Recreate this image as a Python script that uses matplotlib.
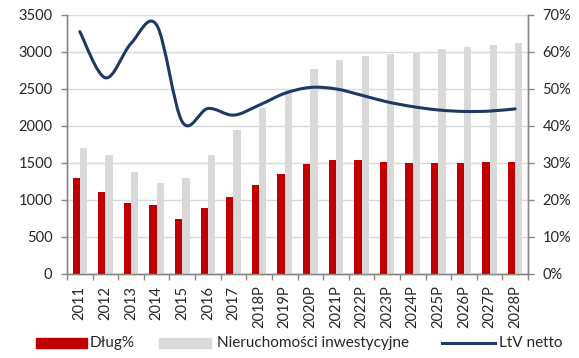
import numpy as np
import matplotlib
matplotlib.use("Agg")
import matplotlib.pyplot as plt
from matplotlib.path import Path
from matplotlib.patches import PathPatch, Rectangle
from matplotlib.lines import Line2D
from matplotlib.ticker import FuncFormatter

plt.rcParams['font.family'] = ['Lato', 'DejaVu Sans']

years = ["2011", "2012", "2013", "2014", "2015", "2016", "2017", "2018P", "2019P",
         "2020P", "2021P", "2022P", "2023P", "2024P", "2025P", "2026P", "2027P", "2028P"]
debt = [1290, 1110, 953, 925, 740, 893, 1034, 1200, 1353,
        1489, 1539, 1535, 1516, 1498, 1498, 1502, 1512, 1516]
property_value = [1705, 1611, 1376, 1228, 1291, 1607, 1941, 2238, 2490,
                  2770, 2892, 2950, 2977, 3004, 3036, 3063, 3095, 3122]
ltv = [65.5, 53.0, 62.3, 67.3, 41.1, 44.7, 42.9, 45.6, 48.8,
       50.4, 50.0, 48.3, 46.5, 45.2, 44.3, 43.9, 44.0, 44.6]
legend_labels = ["Dług%", "Nieruchomości inwestycyjne", "LtV netto"]

RED = "#C00000"
GREY = "#D9D9D9"
NAVY = "#1F3864"
AXIS = "#868686"
TEXT = "#262626"

W, H = 579, 358
fig = plt.figure(figsize=(W / 100, H / 100), dpi=100)
ax = fig.add_axes([67 / W, 1 - 273.7 / H, (528 - 67) / W, (273.7 - 15) / H])
ax2 = ax.twinx()

x = np.arange(len(years))
bw = 0.285
ax.bar(x - bw / 2, debt, width=bw, color=RED, zorder=3)
ax.bar(x + bw / 2, property_value, width=bw, color=GREY, zorder=3)

ax.set_ylim(0, 3500)
ax.set_yticks(np.arange(0, 3501, 500))
ax.set_xlim(-0.5, len(years) - 0.5)
ax.grid(axis="y", color=GREY, linewidth=1.0, zorder=0)
ax.set_axisbelow(True)

# Smooth curve through the LtV points (Catmull-Rom converted to Bezier segments)
pts = np.column_stack([x, ltv]).astype(float)
verts = [tuple(pts[0])]
codes = [Path.MOVETO]
t = 1 / 6
for i in range(len(pts) - 1):
    p0 = pts[i - 1] if i > 0 else pts[i]
    p1 = pts[i]
    p2 = pts[i + 1]
    p3 = pts[i + 2] if i + 2 < len(pts) else pts[i + 1]
    c1 = p1 + (p2 - p0) * t
    c2 = p2 - (p3 - p1) * t
    verts += [tuple(c1), tuple(c2), tuple(p2)]
    codes += [Path.CURVE4] * 3
ax2.add_patch(PathPatch(Path(verts, codes), facecolor="none", edgecolor=NAVY,
                        linewidth=2.2, capstyle="round", zorder=4))
ax2.set_ylim(0, 70)
ax2.set_yticks(np.arange(0, 71, 10))
ax2.yaxis.set_major_formatter(FuncFormatter(lambda v, p: f"{v:.0f}%"))

for a in (ax, ax2):
    a.spines["top"].set_visible(False)
    for s in ("left", "right", "bottom"):
        a.spines[s].set_color(AXIS)
        a.spines[s].set_linewidth(1.0)
    a.tick_params(axis="y", colors=AXIS, labelcolor=TEXT, labelsize=10.5,
                  length=4, width=1, direction="out", pad=6.5)

ax.set_xticks(x)
ax.set_xticklabels(years, rotation=90, fontsize=10.5, color=TEXT)
ax.tick_params(axis="x", length=0, pad=8.5)
ax.set_xticks(np.arange(-0.5, len(years), 1.0), minor=True)
ax.tick_params(axis="x", which="minor", length=4, width=1, color=AXIS, direction="out")

# Legend row, laid out in pixel positions of the figure
def fx(px):
    return px / W

def fy(py):
    return 1 - py / H

ly = 343
fig.add_artist(Rectangle((fx(36), fy(348)), fx(87) - fx(36), fy(338) - fy(348),
                         transform=fig.transFigure, color=RED))
fig.text(fx(90), fy(ly), legend_labels[0], fontsize=11, color=TEXT, va="center", ha="left")
fig.add_artist(Rectangle((fx(159), fy(348)), fx(211) - fx(159), fy(338) - fy(348),
                         transform=fig.transFigure, color=GREY))
fig.text(fx(217), fy(ly), legend_labels[1], fontsize=11, color=TEXT, va="center", ha="left")
fig.add_artist(Line2D([fx(442), fx(495)], [fy(ly), fy(ly)], transform=fig.transFigure,
                      color=NAVY, linewidth=2.2))
fig.text(fx(499), fy(ly), legend_labels[2], fontsize=11, color=TEXT, va="center", ha="left")

fig.savefig("out.png", dpi=100)
